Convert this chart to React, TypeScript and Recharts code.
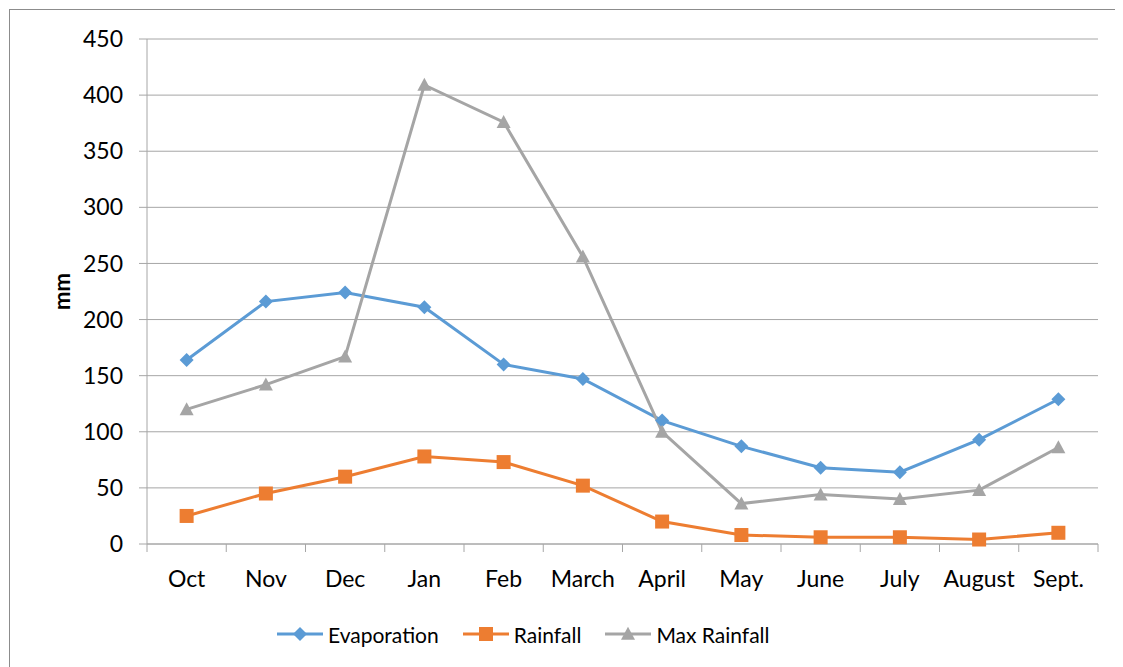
import React, { useLayoutEffect } from 'react';
import { LineChart, Line, XAxis, YAxis, CartesianGrid, Label } from 'recharts';

// Monthly water balance (mm)
const months = ['Oct', 'Nov', 'Dec', 'Jan', 'Feb', 'March', 'April', 'May', 'June', 'July', 'August', 'Sept.'];
const evaporation = [164, 216, 224, 211, 160, 147, 110, 87, 68, 64, 93, 129];
const rainfall = [25, 45, 60, 78, 73, 52, 20, 8, 6, 6, 4, 10];
const maxRainfall = [120, 142, 167, 409, 376, 256, 100, 36, 44, 40, 48, 86];
const yTicks = [0, 50, 100, 150, 200, 250, 300, 350, 400, 450];

const data = months.map((month, i) => ({
  month,
  evaporation: evaporation[i],
  rainfall: rainfall[i],
  maxRainfall: maxRainfall[i],
}));

const FONT = 'Lato, "Open Sans", sans-serif';
const AXIS = '#a6a6a6';

type MarkerKind = 'diamond' | 'square' | 'triangle';

const Marker = ({ kind, cx, cy, color }: { kind: MarkerKind; cx: number; cy: number; color: string }) => {
  if (cx == null || cy == null) return null;
  if (kind === 'diamond') {
    const r = 7;
    return <polygon points={`${cx},${cy - r} ${cx + r},${cy} ${cx},${cy + r} ${cx - r},${cy}`} fill={color} />;
  }
  if (kind === 'square') {
    const r = 7;
    return <rect x={cx - r} y={cy - r} width={2 * r} height={2 * r} fill={color} />;
  }
  const h = 13;
  const w = 14;
  return (
    <polygon
      points={`${cx},${cy - h * 0.55} ${cx + w / 2},${cy + h * 0.45} ${cx - w / 2},${cy + h * 0.45}`}
      fill={color}
    />
  );
};

const series: { key: string; name: string; color: string; marker: MarkerKind }[] = [
  { key: 'evaporation', name: 'Evaporation', color: '#5b9bd5', marker: 'diamond' },
  { key: 'rainfall', name: 'Rainfall', color: '#ed7d31', marker: 'square' },
  { key: 'maxRainfall', name: 'Max Rainfall', color: '#a5a5a5', marker: 'triangle' },
];

// Month label with tick marks on the category boundaries
const MonthTick = (props: any) => {
  const { x, y, payload, width, visibleTicksCount, index } = props;
  const band = width / visibleTicksCount;
  const left = x - band / 2;
  const right = x + band / 2;
  return (
    <g>
      <line x1={left} y1={y} x2={left} y2={y + 8} stroke={AXIS} />
      {index === visibleTicksCount - 1 && <line x1={right} y1={y} x2={right} y2={y + 8} stroke={AXIS} />}
      <text x={x} y={y + 43} textAnchor="middle" fontFamily={FONT} fontSize={23} fill="#000">
        {payload.value}
      </text>
    </g>
  );
};

const LegendRow = () => (
  <div
    style={{
      position: 'absolute',
      left: 267,
      top: 612,
      height: 24,
      display: 'flex',
      alignItems: 'center',
      fontFamily: FONT,
      fontSize: 21,
      color: '#000',
      whiteSpace: 'nowrap',
    }}
  >
    {series.map((s, i) => (
      <div key={s.key} style={{ display: 'flex', alignItems: 'center', marginLeft: i === 0 ? 0 : 24 }}>
        <svg width={46} height={20}>
          <line x1={0} y1={10} x2={46} y2={10} stroke={s.color} strokeWidth={3} />
          <Marker kind={s.marker} cx={23} cy={10} color={s.color} />
        </svg>
        <span style={{ marginLeft: 5 }}>{s.name}</span>
      </div>
    ))}
  </div>
);

export default function App() {
  // The framed chart runs past the window edge; keep the page from scrolling.
  useLayoutEffect(() => {
    document.documentElement.style.overflow = 'hidden';
    document.body.style.overflow = 'hidden';
  }, []);

  return (
    <div
      style={{
        position: 'relative',
        width: 1130,
        height: 670,
        marginLeft: 1,
        marginTop: 1,
        border: '1px solid #8c8c8c',
        background: '#fff',
      }}
    >
      <LineChart width={1130} height={670} data={data} margin={{ top: 29, right: 42, bottom: 76, left: 40 }}>
        <CartesianGrid vertical={false} stroke={AXIS} strokeWidth={1} />
        <XAxis
          dataKey="month"
          scale="band"
          interval={0}
          height={60}
          tickLine={false}
          tickSize={0}
          tickMargin={0}
          axisLine={{ stroke: AXIS }}
          tick={<MonthTick />}
        />
        <YAxis
          width={97}
          domain={[0, 450]}
          ticks={yTicks}
          interval={0}
          tickSize={8}
          tickMargin={16}
          axisLine={{ stroke: AXIS }}
          tickLine={{ stroke: AXIS }}
          tick={{ fill: '#000', fontSize: 23, fontFamily: FONT }}
        >
          <Label
            content={(props: any) => {
              const vb = props.viewBox || {};
              const x = vb.x + 11.5;
              const y = vb.y + vb.height / 2;
              return (
                <text
                  x={x}
                  y={y}
                  transform={`rotate(-90, ${x}, ${y})`}
                  textAnchor="middle"
                  dominantBaseline="central"
                  fontFamily={FONT}
                  fontSize={22}
                  fontWeight="bold"
                  fill="#000"
                >
                  mm
                </text>
              );
            }}
          />
        </YAxis>
        {series.map((s) => (
          <Line
            key={s.key}
            dataKey={s.key}
            name={s.name}
            stroke={s.color}
            strokeWidth={3}
            isAnimationActive={false}
            dot={(p: any) => <Marker key={`${s.key}-${p.index}`} kind={s.marker} cx={p.cx} cy={p.cy} color={s.color} />}
            activeDot={false}
          />
        ))}
      </LineChart>
      <LegendRow />
    </div>
  );
}
